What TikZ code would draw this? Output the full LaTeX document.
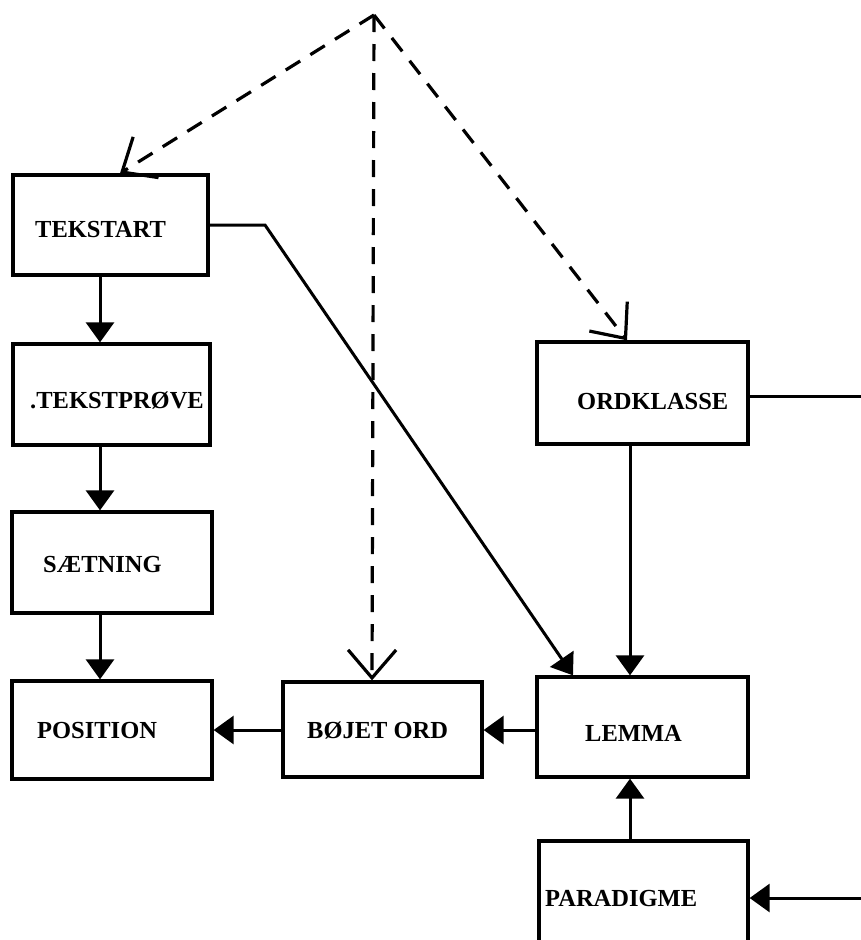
\documentclass[tikz,border=0pt]{standalone}
\usepackage{fontspec}
\setmainfont{Liberation Serif}
\usetikzlibrary{arrows.meta}
\begin{document}
\begin{tikzpicture}[x=1pt,y=-1pt,
  box/.style={draw, line width=3.3pt, inner sep=0pt},
  lbl/.style={anchor=west, inner sep=0pt, font=\fontsize{24.5}{28}\selectfont\bfseries},
  conn/.style={line width=3pt, -{Triangle[length=20pt,width=28pt]}},
  plain/.style={line width=3pt},
  dsh/.style={line width=3.2pt, dash pattern=on 17pt off 12pt, -{Straight Barb[length=28pt,width=48pt,line width=3.2pt]}},
]
\useasboundingbox (0,0) rectangle (861,940);
\clip (0,0) rectangle (861,940);

% boxes
\node[box, minimum width=195pt, minimum height=100pt] (tekstart) at (110.5,225) {};
\node[box, minimum width=197pt, minimum height=101pt] (tekstprove) at (111.5,394.5) {};
\node[box, minimum width=200pt, minimum height=101pt] (saetning) at (112,562.5) {};
\node[box, minimum width=200pt, minimum height=98pt] (position) at (112,730) {};
\node[box, minimum width=199pt, minimum height=95pt] (bojet) at (382.5,729.5) {};
\node[box, minimum width=211pt, minimum height=100pt] (lemma) at (642.5,727) {};
\node[box, minimum width=211pt, minimum height=102pt] (ordklasse) at (642.5,393) {};
\node[box, minimum width=209pt, minimum height=118pt] (paradigme) at (643.5,900) {};

% labels
\node[lbl] (ltekstart) at (35,230) {TEKSTART};
\node[lbl] (ltekstprove) at (30,401) {.TEKSTPRØVE};
\node[lbl] (lsaetning) at (43,565) {SÆTNING};
\node[lbl] (lposition) at (37,730) {POSITION};
\node[lbl] (lbojet) at (307,730) {BØJET ORD};
\node[lbl] (llemma) at (585,733) {LEMMA};
\node[lbl] (lordklasse) at (577,402) {ORDKLASSE};
\node[lbl] (lparadigme) at (545,898) {PARADIGME};

% helper coordinates
\coordinate (x100) at (100,0);
\coordinate (x120) at (120,0);
\coordinate (x372) at (372,0);
\coordinate (x573) at (573,0);
\coordinate (x627) at (627,0);
\coordinate (x630) at (630,0);
\coordinate (y730) at (0,730);
\coordinate (bend) at (265,225);
\coordinate (rin) at (861,898);
\coordinate (rout) at (861,396);
\coordinate (apex) at (374,15);

% left column
\draw[conn] (tekstart.south -| x100) -- (tekstprove.north -| x100);
\draw[conn] (tekstprove.south -| x100) -- (saetning.north -| x100);
\draw[conn] (saetning.south -| x100) -- (position.north -| x100);

% bottom row
\draw[conn] (lemma.west |- y730) -- (bojet.east |- y730);
\draw[conn] (bojet.west |- y730) -- (position.east |- y730);

% right column
\draw[conn] (ordklasse.south -| x630) -- (lemma.north -| x630);
\draw[conn] (paradigme.north -| x630) -- (lemma.south -| x630);
\draw[conn] (rin) -- (paradigme.east |- rin);
\draw[plain] (ordklasse.east |- rout) -- (rout);

% diagonal
\draw[conn] (tekstart.east |- bend) -- (bend) -- (lemma.north -| x573);

% dashed
\draw[dsh] (apex) -- (tekstart.north -| x120);
\draw[dsh] (apex) -- (bojet.north -| x372);
\draw[dsh] (apex) -- (ordklasse.north -| x627);
\end{tikzpicture}
\end{document}
